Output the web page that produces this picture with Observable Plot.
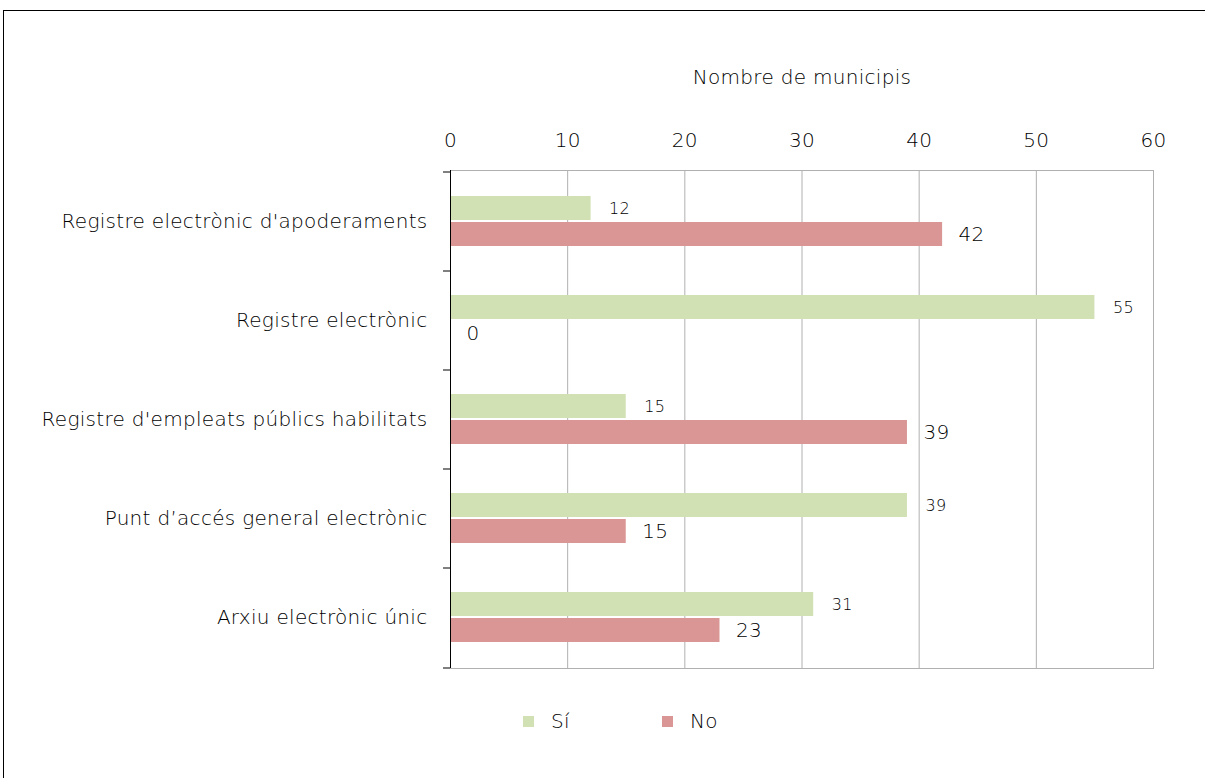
<!DOCTYPE html>
<html>
<head>
<meta charset="utf-8">
<script src="https://cdn.jsdelivr.net/npm/d3@7"></script>
<script src="https://cdn.jsdelivr.net/npm/@observablehq/plot@0.6"></script>
<style>
  body { margin: 0; background: #fff; width: 1205px; height: 778px; overflow: hidden; position: relative; font-family: "DejaVu Sans", sans-serif; font-weight: 200; }
  #frame { position: absolute; left: 3px; top: 10px; width: 1220px; height: 800px; border: 1px solid #000; box-sizing: border-box; }
  #chart { position: absolute; left: 0; top: 0; }
  #legend { position: absolute; top: 706px; left: 0; width: 1205px; height: 30px; font-size: 20px; color: #000; letter-spacing: 0.3px; }
  #legend .item { position: absolute; top: 0; display: flex; align-items: center; height: 30px; }
  #legend .sw { width: 11px; height: 11px; display: inline-block; margin-right: 17px; }
  svg text { font-weight: 200; }
</style>
</head>
<body>
<div id="frame"></div>
<div id="chart"></div>
<div id="legend"></div>
<script>
const categories = [
  "Registre electrònic d'apoderaments",
  "Registre electrònic",
  "Registre d'empleats públics habilitats",
  "Punt d’accés general electrònic",
  "Arxiu electrònic únic"
];
const si = [12, 55, 15, 39, 31];
const no = [42, 0, 39, 15, 23];
const xTicks = [0, 10, 20, 30, 40, 50, 60];
const series = ["Sí", "No"];
const colors = ["#d1e1b4", "#da9595"];
const axisTitle = "Nombre de municipis";

const siData = categories.map((c, i) => ({cat: c, value: si[i]}));
const noData = categories.map((c, i) => ({cat: c, value: no[i]}));

const font = "DejaVu Sans, sans-serif";

const plot = Plot.plot({
  width: 1205,
  height: 690,
  marginLeft: 450,
  marginRight: 52,
  marginTop: 170,
  marginBottom: 22,
  style: {fontFamily: font, fontSize: "20px", color: "#000", background: "transparent", letterSpacing: "0.3px"},
  x: {domain: [0, 60], ticks: xTicks},
  y: {domain: categories, paddingInner: 0, paddingOuter: 0},
  marks: [
    Plot.gridX(xTicks.filter(d => d > 0), {stroke: "#b0b0b0", strokeOpacity: 1}),
    Plot.frame({stroke: "#b0b0b0"}),
    Plot.barX(siData, {x: "value", y: "cat", fill: colors[0], insetTop: 24, insetBottom: 51}),
    Plot.barX(noData, {x: "value", y: "cat", fill: colors[1], insetTop: 50, insetBottom: 25}),
    Plot.ruleX([0], {stroke: "#000", strokeWidth: 1}),
    Plot.ruleY(categories, {y: d => d, x1: 0, x2: 0, insetLeft: -7, dy: -50, stroke: "#000"}),
    Plot.ruleY(categories.slice(-1), {y: d => d, x1: 0, x2: 0, insetLeft: -7, dy: 50, stroke: "#000"}),
    Plot.text(siData, {x: "value", y: "cat", text: d => String(d.value), textAnchor: "start", dx: 18, dy: -13, fontSize: 16, fill: "#000"}),
    Plot.text(noData, {x: "value", y: "cat", text: d => String(d.value), textAnchor: "start", dx: 16, dy: 13, fontSize: 20, fill: "#000"}),
    Plot.axisX({anchor: "top", ticks: xTicks, tickSize: 0, tickPadding: 24, label: null, fontSize: 20}),
    Plot.axisY({anchor: "left", tickSize: 0, tickPadding: 23, label: null, fontSize: 20}),
    Plot.text([axisTitle], {frameAnchor: "top", dy: -101, text: d => d, fontSize: 20, fill: "#000"})
  ]
});
document.getElementById("chart").appendChild(plot);

const legend = document.getElementById("legend");
const lx = [523, 662];
series.forEach((s, i) => {
  const it = document.createElement("div");
  it.className = "item";
  it.style.left = lx[i] + "px";
  it.innerHTML = `<span class="sw" style="background:${colors[i]}"></span><span>${s}</span>`;
  legend.appendChild(it);
});
</script>
</body>
</html>
